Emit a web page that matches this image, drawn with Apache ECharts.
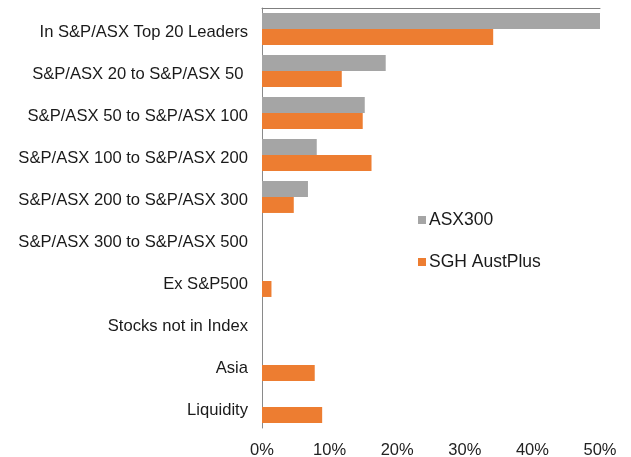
<!DOCTYPE html>
<html><head><meta charset="utf-8">
<script src="https://cdn.jsdelivr.net/npm/echarts@6/dist/echarts.min.js"></script>
<style>html,body{margin:0;padding:0;background:#fff}#c{width:631px;height:457px}</style>
</head><body><div id="c"></div>
<script>
const categories = [
  "In S&P/ASX Top 20 Leaders",
  "S&P/ASX 20 to S&P/ASX 50 ",
  "S&P/ASX 50 to S&P/ASX 100",
  "S&P/ASX 100 to S&P/ASX 200",
  "S&P/ASX 200 to S&P/ASX 300",
  "S&P/ASX 300 to S&P/ASX 500",
  "Ex S&P500",
  "Stocks not in Index",
  "Asia",
  "Liquidity"
];
const asx300 = [50.0, 18.3, 15.2, 8.1, 6.8, 0, 0, 0, 0, 0];
const sghAustPlus = [34.2, 11.8, 14.9, 16.2, 4.7, 0, 1.4, 0, 7.8, 8.9];
const tickValues = [0, 10, 20, 30, 40, 50];

const chart = echarts.init(document.getElementById('c'));
const font = 'Liberation Sans, Arial, sans-serif';
chart.setOption({
  animation: false,
  textStyle: { fontFamily: font },
  grid: { left: 262, top: 8, right: 31, bottom: 29, containLabel: false, outerBoundsMode: 'none' },
  legend: {
    orient: 'vertical', left: 413, top: 206, itemWidth: 8, itemHeight: 8, itemGap: 24,
    icon: 'rect',
    textStyle: { fontSize: 17.5, lineHeight: 18, color: '#1a1a1a', fontFamily: font, padding: [0,0,0,-2] },
    data: ['ASX300', 'SGH AustPlus']
  },
  xAxis: [{
    type: 'value', min: 0, max: 50, interval: 10,
    axisLine: { show: false }, axisTick: { show: false }, splitLine: { show: false },
    axisLabel: { formatter: v => tickValues.includes(v) ? v + '%' : '', fontSize: 16.5, color: '#222', margin: 14 }
  }, {
    type: 'value', min: 0, max: 50, position: 'top',
    axisLine: { show: true, lineStyle: { color: '#7f7f7f', width: 1 } },
    axisTick: { show: false }, axisLabel: { show: false }, splitLine: { show: false }
  }],
  yAxis: {
    type: 'category', inverse: true, data: categories,
    axisLine: { show: true, lineStyle: { color: '#8a8a8a', width: 1 } },
    axisTick: { show: false },
    axisLabel: {
      margin: 14,
      formatter: v => '{a|' + v + '}',
      rich: { a: { fontSize: 16.6, color: '#1a1a1a', fontFamily: font, padding: [6, 0, 0, 0] } }
    }
  },
  series: [{
    name: 'ASX300', type: 'bar', data: asx300, xAxisIndex: 0,
    itemStyle: { color: '#A5A5A5' }, barGap: '0%', barCategoryGap: '24%'
  }, {
    name: 'SGH AustPlus', type: 'bar', data: sghAustPlus, xAxisIndex: 0,
    itemStyle: { color: '#ED7D31' }, barGap: '0%', barCategoryGap: '24%'
  }]
});
</script></body></html>
